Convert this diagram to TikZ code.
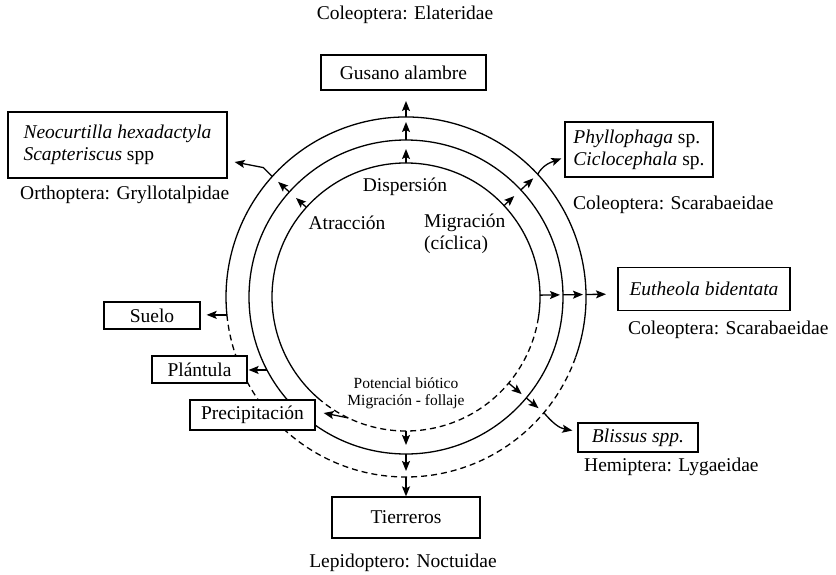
\documentclass[tikz,border=0pt]{standalone}
\usepackage{fontspec}
\setmainfont{Liberation Serif}
\usetikzlibrary{arrows.meta,calc}
\begin{document}
\begin{tikzpicture}[x=1pt,y=-1pt,
  ring/.style={line width=1.3pt},
  ringdash/.style={line width=1.3pt,dash pattern=on 6pt off 4pt},
  arr/.style={line width=1.3pt,-{Stealth[length=10pt,width=8pt,inset=2pt]}},
  box/.style={draw,line width=1.3pt,fill=white,inner sep=0pt,font=\fontsize{19.5}{22}\selectfont},
  lbl/.style={inner sep=0pt,font=\fontsize{19.5}{22}\selectfont},
  small/.style={inner sep=0pt,align=center,font=\fontsize{15.5}{17}\selectfont}]

\useasboundingbox (0,0) rectangle (836,574);
\fill[white] (0,0) rectangle (836,574);

\coordinate (c) at (406,297);
\begin{scope}[shift={(c)},x=1pt,y=1pt]
  \draw[ring] (350:134) arc[start angle=350,end angle=589,radius=134];
  \draw[ringdash] (229:134) arc[start angle=229,end angle=350,radius=134];
  \draw[ring] (0,0) circle[radius=157];
  \draw[ring] (340.5:180) arc[start angle=340.5,end angle=545.7,radius=180];
  \draw[ringdash] (185.7:180) arc[start angle=185.7,end angle=340.5,radius=180];
  \foreach \n/\a in {t/90,r/0.8,b/270,ul/138,ur/43,lr/-40,su/185.7,pl/207.7,pr/244.5}{
    \coordinate (i\n) at (\a:134);
    \coordinate (m\n) at (\a:157);
    \coordinate (o\n) at (\a:180);
  }
\end{scope}

% boxes
\node[box,minimum width=165pt,minimum height=35pt] (gus) at (403.5,72.5) {Gusano alambre};
\node[box,minimum width=219pt,minimum height=66pt,align=left] (neo) at (117.5,145) {\textit{Neocurtilla hexadactyla}\\\textit{Scapteriscus} spp};
\node[box,minimum width=148pt,minimum height=55pt,align=left] (phy) at (639,149.5) {\textit{Phyllophaga} sp.\\\textit{Ciclocephala} sp.};
\node[box,minimum width=172pt,minimum height=43pt] (eut) at (704,289) {\textit{Eutheola bidentata}};
\node[box,minimum width=96pt,minimum height=27pt] (sue) at (152,315.5) {Suelo};
\node[box,minimum width=95pt,minimum height=27pt] (pla) at (199.5,369.5) {Plántula};
\node[box,minimum width=125pt,minimum height=30pt] (pre) at (252.5,415) {Precipitación};
\node[box,minimum width=120pt,minimum height=29pt] (bli) at (638,437.5) {\textit{Blissus spp.}};
\node[box,minimum width=148pt,minimum height=41pt] (tie) at (406,517.5) {Tierreros};

% labels
\node[lbl] (ela) at (405,15) {Coleoptera: Elateridae};
\node[lbl,anchor=west] (gry) at (20,195) {Orthoptera: Gryllotalpidae};
\node[lbl,anchor=west] (sc1) at (573,205) {Coleoptera: Scarabaeidae};
\node[lbl,anchor=west] (sc2) at (628,330) {Coleoptera: Scarabaeidae};
\node[lbl,anchor=west] (lyg) at (584,467) {Hemiptera: Lygaeidae};
\node[lbl] (noc) at (403,563) {Lepidoptero: Noctuidae};
\node[lbl] (dis) at (405,187) {Dispersión};
\node[lbl] (atr) at (347,223) {Atracción};
\node[lbl,anchor=west,align=left] (mig) at (424,234) {Migración\\(cíclica)};
\node[small] (pot) at (406,393) {Potencial biótico\\Migración - follaje};

% arrows
\begin{scope}[shift={(c)},x=1pt,y=1pt]
  \draw[arr] (it) -- (90:148);
  \draw[arr] (mt) -- (90:175);
  \draw[arr] (ot) -- (90:196);
  \draw[arr] (ir) -- (0.8:154);
  \draw[arr] (mr) -- (0.8:177);
  \draw[arr] (or) -- (0.8:200);
  \draw[arr] (ib) -- (270:148);
  \draw[arr] (mb) -- (270:174);
  \draw[arr] (ob) -- (tie.north);
  \draw[arr] (iul) -- (138:148);
  \draw[arr] (mul) -- (138:172);
  \draw[arr] (oul) -- ++(-9,9) -- ([xshift=7pt,yshift=-17pt]neo.east);
  \draw[arr] (iur) -- (43:148);
  \draw[arr] (mur) -- (43:174);
  \draw[arr] (our) to[out=60,in=200] ([xshift=-3pt,yshift=-9pt]phy.west);
  \draw[arr] (ilr) -- (-40:151);
  \draw[arr] (mlr) -- (-40:173);
  \draw[arr] (olr) to[out=-50,in=170] ([xshift=-5pt,yshift=7pt]bli.west);
  \draw[arr,shorten >=6pt] (osu) -- (osu -| sue.east);
  \draw[arr,shorten >=1pt] (mpl) -- (mpl -| pla.east);
  \draw[arr] (ipr) -- ([xshift=8pt,yshift=2pt]pre.east);
\end{scope}
\end{tikzpicture}
\end{document}
